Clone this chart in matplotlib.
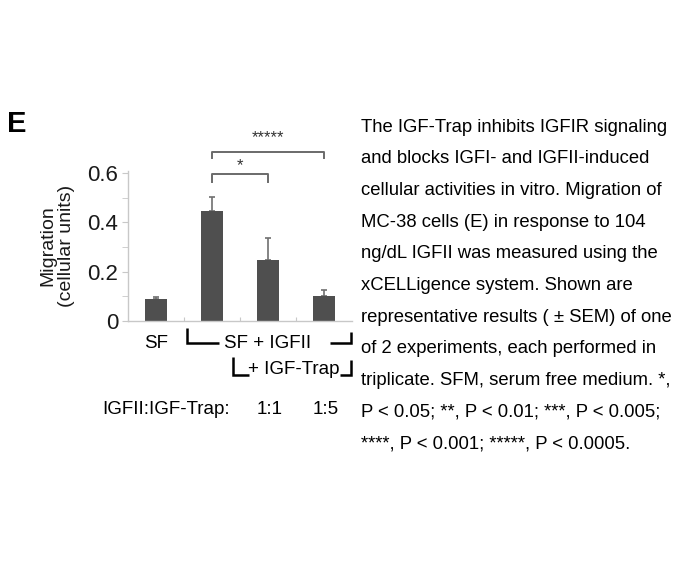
import matplotlib
matplotlib.use("Agg")
import matplotlib.pyplot as plt
import matplotlib.transforms as mtransforms
from matplotlib.ticker import MultipleLocator

plt.rcParams['font.family'] = ['Liberation Sans', 'DejaVu Sans']

# -------- DATA --------
groups = ["SF", "IGFII", "IGFII + Trap 1:1", "IGFII + Trap 1:5"]
migration = [0.088, 0.447, 0.247, 0.103]
sem_upper = [0.008, 0.054, 0.089, 0.023]
y_ticks = [0, 0.2, 0.4, 0.6]
y_ticklabels = ["0", "0.2", "0.4", "0.6"]
ratio_labels = ["", "", "1:1", "1:5"]
sig_pairs = [(1, 2, "*"), (1, 3, "*****")]

caption = [
    "The IGF-Trap inhibits IGFIR signaling",
    "and blocks IGFI- and IGFII-induced",
    "cellular activities in vitro. Migration of",
    "MC-38 cells (E) in response to 104",
    "ng/dL IGFII was measured using the",
    "xCELLigence system. Shown are",
    "representative results ( \u00b1 SEM) of one",
    "of 2 experiments, each performed in",
    "triplicate. SFM, serum free medium. *,",
    "P < 0.05; **, P < 0.01; ***, P < 0.005;",
    "****, P < 0.001; *****, P < 0.0005.",
]

W, H = 680, 567
fig = plt.figure(figsize=(W / 100, H / 100), dpi=100)

def fy(py):
    return 1 - py / H

# axes: x from 128 px to 352 px, y 0 at 321 px, 0.6 at 173 px
ax = fig.add_axes([128 / W, fy(321), 224 / W, (321 - 170.5) / H])
x = list(range(len(groups)))
ax.bar(x, migration, width=0.4, color="#4f4f4f", zorder=2)
ax.errorbar(x, migration, yerr=[[0] * len(x), sem_upper], fmt="none",
            ecolor="#707070", elinewidth=1.2, capsize=2, capthick=1.2, zorder=1)

ax.set_xlim(-0.5, 3.5)
ax.set_ylim(0, 0.61)
ax.set_yticks(y_ticks)
ax.set_yticklabels(y_ticklabels)
ax.yaxis.set_minor_locator(MultipleLocator(0.1))
ax.set_xticks([0.5, 1.5, 2.5])
ax.set_xticklabels([])
for s in ["top", "right"]:
    ax.spines[s].set_visible(False)
for s in ["left", "bottom"]:
    ax.spines[s].set_color("#c8c8c8")
    ax.spines[s].set_linewidth(1.0)
ax.tick_params(axis="y", which="both", length=4, color="#c8c8c8",
               labelsize=16, pad=3, labelcolor="#1a1a1a")
ax.tick_params(axis="x", length=3, direction="in", color="#c8c8c8")

ax.set_ylabel("Migration\n(cellular units)", fontsize=14, linespacing=1.1,
              va="center", color="#1a1a1a")
ax.yaxis.set_label_coords(-0.315, 0.5)

# significance brackets
for (a, b, stars), yb, drop, ys in zip(sig_pairs, [0.596, 0.685], [0.032, 0.026], [0.628, 0.745]):
    ax.plot([a, a, b, b], [yb - drop, yb, yb, yb - drop], color="#6a6a6a",
            lw=1.4, clip_on=False, solid_joinstyle="round")
    ax.text((a + b) / 2, ys, stars, ha="center", va="center", fontsize=12,
            color="#333333", clip_on=False)

# treatment labels below axis
tr = mtransforms.blended_transform_factory(ax.transData, fig.transFigure)
kw = dict(transform=tr, color="black", lw=1.8, clip_on=False,
          solid_capstyle="butt", solid_joinstyle="miter")
fig.text(0, fy(343.5), "SF", transform=tr, ha="center", va="center", fontsize=13.5)
ax.plot([0.56, 0.56, 1.12], [fy(328), fy(343), fy(343)], **kw)
fig.text(2.0, fy(343.5), "SF + IGFII", transform=tr, ha="center", va="center", fontsize=13.5)
ax.plot([3.1, 3.48, 3.48], [fy(343), fy(343), fy(332)], **kw)
ax.plot([1.38, 1.38, 1.66], [fy(357), fy(375), fy(375)], **kw)
fig.text(2.46, fy(370), "+ IGF-Trap", transform=tr, ha="center", va="center", fontsize=13.5)
ax.plot([3.28, 3.48, 3.48], [fy(375), fy(375), fy(360)], **kw)

fig.text(102 / W, fy(410), "IGFII:IGF-Trap:", ha="left", va="center", fontsize=13.5)
for xi, lab in zip(x, ratio_labels):
    if lab:
        fig.text(xi + 0.03, fy(410), lab, transform=tr, ha="center", va="center", fontsize=13.5)

# panel letter
fig.text(7 / W, fy(124), "E", ha="left", va="center", fontsize=21, fontweight="bold")

# caption
for i, line in enumerate(caption):
    fig.text(361 / W, fy(131.5 + i * 31.7), line, ha="left", va="baseline",
             fontsize=13.3, color="black")

fig.savefig("out.png", dpi=100)
